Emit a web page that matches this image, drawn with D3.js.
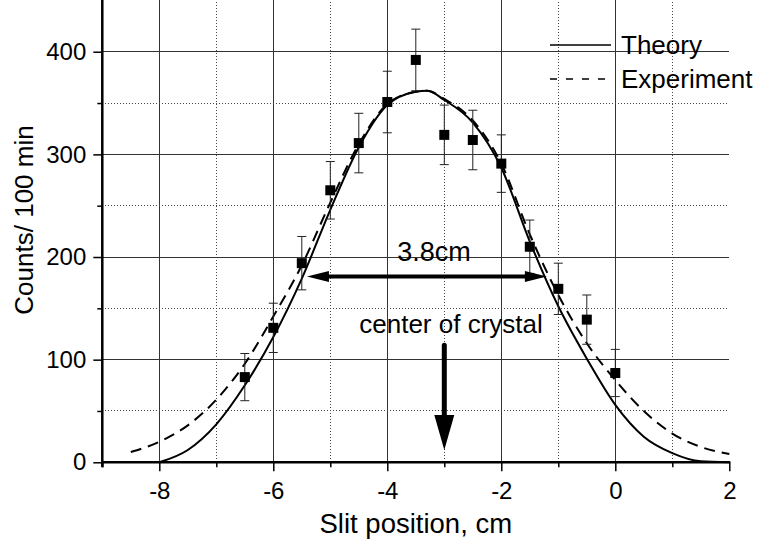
<!DOCTYPE html>
<html>
<head>
<meta charset="utf-8">
<script src="https://cdn.jsdelivr.net/npm/d3@7"></script>
<style>
  html, body { margin: 0; padding: 0; background: #fff; }
  svg text { font-family: "Liberation Sans", Arial, Helvetica, sans-serif; fill: #000; }
</style>
</head>
<body>
<svg id="chart" width="758" height="548"></svg>
<script>
// measured points (slit position in cm, counts per 100 min, error)
const slitPos = [-6.5, -6, -5.5, -5, -4.5, -4, -3.5, -3, -2.5, -2, -1.5, -1, -0.5, 0];
const counts = [83, 131, 194, 265, 311, 351, 392, 319, 314, 291, 210, 169, 139, 87];
const countErr = [23, 24, 26, 28, 29, 30, 30, 29, 29, 28, 26, 25, 24, 23];

// theory curve (solid)
const theoryX = [-8, -7.5, -7, -6.5, -6, -5.5, -5, -4.5, -4, -3.5, -3.3, -3, -2.5, -2, -1.5, -1, -0.5, 0, 0.5, 1, 1.5, 2];
const theoryY = [0, 12, 37, 75, 122, 179, 246, 307, 348, 361, 362, 353, 331, 287, 215, 152, 101, 56, 25, 9, 1, 0];

// experiment fit curve (dashed)
const experimentX = [-8.5, -8, -7.5, -7, -6.5, -6, -5.5, -5, -4.5, -4, -3.5, -3.3, -3, -2.5, -2, -1.5, -1, -0.5, 0, 0.5, 1, 1.5, 2];
const experimentY = [10, 20, 36, 61, 96, 142, 192, 253, 310, 349, 361, 362, 354, 333, 291, 222, 163, 116, 80, 50, 28, 15, 8];

const xMajor = [-8, -6, -4, -2, 0, 2];
const xMinor = [-9, -7, -5, -3, -1, 1];
const yMajor = [0, 100, 200, 300, 400];
const yMinor = [50, 150, 250, 350];

const legendLabels = ["Theory", "Experiment"];

const svg = d3.select("#chart");

const x = d3.scaleLinear().domain([-9, 2]).range([102.3, 729.3]);
const y = d3.scaleLinear().domain([0, 450]).range([462.3, 0.4]);

// --- grid ---
const grid = svg.append("g").attr("shape-rendering", "crispEdges");

grid.selectAll(".vmaj")
    .data(xMajor.filter(d => d < 2))
    .enter().append("line")
    .attr("x1", d => x(d)).attr("x2", d => x(d))
    .attr("y1", y(0)).attr("y2", 0)
    .attr("stroke", "#333").attr("stroke-width", 1);

grid.selectAll(".vmin")
    .data(xMinor.filter(d => d > -9))
    .enter().append("line")
    .attr("x1", d => x(d)).attr("x2", d => x(d))
    .attr("y1", y(0)).attr("y2", 0)
    .attr("stroke", "#444").attr("stroke-width", 1)
    .attr("stroke-dasharray", "1,2");

grid.selectAll(".hmaj")
    .data(yMajor.filter(d => d > 0))
    .enter().append("line")
    .attr("x1", x(-9)).attr("x2", x(2))
    .attr("y1", d => y(d)).attr("y2", d => y(d))
    .attr("stroke", "#333").attr("stroke-width", 1);

grid.selectAll(".hmin")
    .data(yMinor)
    .enter().append("line")
    .attr("x1", x(-9)).attr("x2", x(2))
    .attr("y1", d => y(d)).attr("y2", d => y(d))
    .attr("stroke", "#444").attr("stroke-width", 1)
    .attr("stroke-dasharray", "1,2");

// --- curves ---
const line = (xs, ys) => d3.line()
    .x((d, i) => x(xs[i]))
    .y((d, i) => y(ys[i]))
    .curve(d3.curveMonotoneX)(xs);

svg.append("path")
    .attr("d", line(experimentX, experimentY))
    .attr("fill", "none")
    .attr("stroke", "#000")
    .attr("stroke-width", 2)
    .attr("stroke-dasharray", "11,7");

svg.append("path")
    .attr("d", line(theoryX, theoryY))
    .attr("fill", "none")
    .attr("stroke", "#000")
    .attr("stroke-width", 2);

// --- error bars and squares ---
const pts = svg.append("g");
slitPos.forEach((p, i) => {
    const cx = x(p);
    const top = y(counts[i] + countErr[i]);
    const bot = y(counts[i] - countErr[i]);
    pts.append("line").attr("x1", cx).attr("x2", cx).attr("y1", top).attr("y2", bot)
        .attr("stroke", "#222").attr("stroke-width", 1);
    [top, bot].forEach(yy => {
        pts.append("line").attr("x1", cx - 4.5).attr("x2", cx + 4.5).attr("y1", yy).attr("y2", yy)
            .attr("stroke", "#222").attr("stroke-width", 1);
    });
    pts.append("rect")
        .attr("x", cx - 5).attr("y", y(counts[i]) - 5)
        .attr("width", 10).attr("height", 10)
        .attr("fill", "#000");
});

// --- axes ---
const xAxisMaj = d3.axisBottom(x).tickValues(xMajor).tickSize(9).tickPadding(11).tickFormat(d3.format("d"));
const xAxisMin = d3.axisBottom(x).tickValues(xMinor).tickSize(5).tickFormat("");
const yAxisMaj = d3.axisLeft(y).tickValues(yMajor).tickSize(9).tickPadding(7).tickFormat(d3.format("d"));
const yAxisMin = d3.axisLeft(y).tickValues(yMinor).tickSize(5).tickFormat("");

function styleAxis(g) {
    g.select(".domain").remove();
    g.selectAll(".tick line").attr("stroke", "#000").attr("stroke-width", 1.5);
    g.selectAll(".tick text").attr("font-size", 24).attr("fill", "#000")
        .attr("font-family", "Liberation Sans, Arial, sans-serif")
        .text(function () { return this.textContent.replace("−", "-"); });
}

svg.append("g").attr("transform", `translate(0,${y(0)})`).call(xAxisMaj).call(styleAxis);
svg.append("g").attr("transform", `translate(0,${y(0)})`).call(xAxisMin).call(styleAxis);
svg.append("g").attr("transform", `translate(${x(-9)},0)`).call(yAxisMaj).call(styleAxis);
svg.append("g").attr("transform", `translate(${x(-9)},0)`).call(yAxisMin).call(styleAxis);

// axis lines
svg.append("line").attr("x1", x(-9)).attr("x2", x(2) + 1).attr("y1", y(0)).attr("y2", y(0))
    .attr("stroke", "#000").attr("stroke-width", 2.5);
svg.append("line").attr("x1", x(-9)).attr("x2", x(-9)).attr("y1", 0).attr("y2", y(0) + 5)
    .attr("stroke", "#000").attr("stroke-width", 2.5);

// axis titles
svg.append("text")
    .attr("x", (x(-9) + x(2)) / 2).attr("y", 533)
    .attr("text-anchor", "middle").attr("font-size", 27.5)
    .text("Slit position, cm");

svg.append("text")
    .attr("transform", "translate(33,220) rotate(-90)")
    .attr("text-anchor", "middle").attr("font-size", 26)
    .text("Counts/ 100 min");

// --- annotations ---
const arrowW = 4;
const hy = y(181);
const hx0 = x(-5.41), hx1 = x(-1.2);
svg.append("line").attr("x1", hx0 + 18).attr("x2", hx1 - 18).attr("y1", hy).attr("y2", hy)
    .attr("stroke", "#000").attr("stroke-width", arrowW);
svg.append("path")
    .attr("d", `M${hx0},${hy} L${hx0 + 22},${hy - 5.5} L${hx0 + 22},${hy + 5.5} Z`)
    .attr("fill", "#000");
svg.append("path")
    .attr("d", `M${hx1},${hy} L${hx1 - 22},${hy - 5.5} L${hx1 - 22},${hy + 5.5} Z`)
    .attr("fill", "#000");
svg.append("text")
    .attr("x", 434).attr("y", 261)
    .attr("text-anchor", "middle").attr("font-size", 27)
    .text("3.8cm");

const vx = x(-3);
const vTop = y(114), vTip = y(12);
svg.append("line").attr("x1", vx).attr("x2", vx).attr("y1", vTop).attr("y2", vTip - 30)
    .attr("stroke", "#000").attr("stroke-width", 5).attr("stroke-linecap", "round");
svg.append("path")
    .attr("d", `M${vx},${vTip} L${vx - 10},${vTip - 35} L${vx + 10},${vTip - 35} Z`)
    .attr("fill", "#000");
svg.append("text")
    .attr("x", 451).attr("y", 333)
    .attr("text-anchor", "middle").attr("font-size", 26)
    .text("center of crystal");

// --- legend ---
const leg = svg.append("g");
legendLabels.forEach((lab, i) => {
    const ly = 45 + i * 34;
    leg.append("line").attr("x1", 550).attr("x2", i === 0 ? 611 : 606).attr("y1", ly).attr("y2", ly)
        .attr("stroke", "#000").attr("stroke-width", 1.5)
        .attr("stroke-dasharray", i === 0 ? null : "7,9");
    leg.append("text").attr("x", 621).attr("y", ly + 9)
        .attr("font-size", 26).text(lab);
});
</script>
</body>
</html>
